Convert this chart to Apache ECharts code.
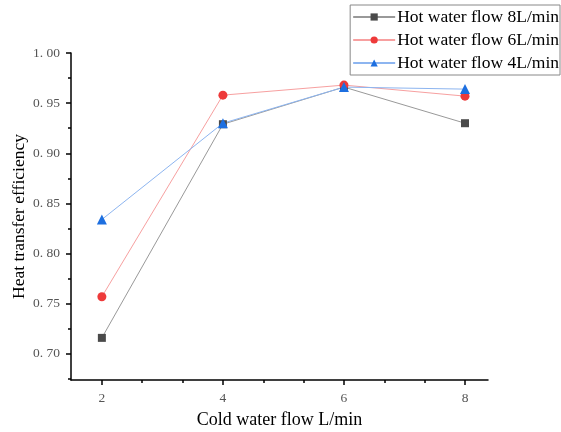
<!DOCTYPE html>
<html><head><meta charset="utf-8">
<script src="https://cdn.jsdelivr.net/npm/echarts@6/dist/echarts.min.js"></script>
<style>html,body{margin:0;padding:0;background:#fff}#c{width:561px;height:432px}</style>
</head><body><div id="c"></div>
<script>
const coldFlow = [2, 4, 6, 8];
const hot8 = [0.716, 0.929, 0.966, 0.930];
const hot6 = [0.757, 0.958, 0.968, 0.957];
const hot4 = [0.834, 0.930, 0.966, 0.964];
const seriesNames = ['Hot water flow 8L/min', 'Hot water flow 6L/min', 'Hot water flow 4L/min'];
const xTicks = [2, 4, 6, 8];
const xMinorTicks = [2.667, 3.333, 4.667, 5.333, 6.667, 7.333];
const yTicks = [0.70, 0.75, 0.80, 0.85, 0.90, 0.95, 1.00];
const yMinorTicks = [0.675, 0.725, 0.775, 0.825, 0.875, 0.925, 0.975];

const pair = arr => coldFlow.map((x, i) => [x, arr[i]]);
const serif = 'Liberation Serif';
const fmtY = v => v.toFixed(2).replace('.', '. ');
const X0 = 1.49, X1 = 8.38, Y0 = 0.674, Y1 = 1.0;

const chart = echarts.init(document.getElementById('c'));
chart.setOption({
  animation: false,
  backgroundColor: '#fff',
  grid: {left: 71, top: 53, right: 73, bottom: 52, containLabel: false, outerBoundsMode: 'none'},
  legend: {
    orient: 'vertical', right: 1, top: 5,
    borderColor: '#888', borderWidth: 1, padding: [3, 1, 3, 2],
    itemGap: 5, itemWidth: 42, itemHeight: 9,
    textStyle: {fontFamily: serif, fontSize: 17.5, color: '#000', padding: [0, 0, 0, -3]},
    data: seriesNames
  },
  xAxis: [{
    type: 'value', min: X0, max: X1,
    name: 'Cold water flow L/min', nameLocation: 'middle', nameGap: 31, nameMoveOverlap: false,
    nameTextStyle: {fontFamily: serif, fontSize: 18, color: '#000'},
    axisLine: {lineStyle: {color: '#000', width: 1.5}},
    axisTick: {show: true, customValues: xTicks, length: 5, lineStyle: {color: '#000', width: 1.5}},
    axisLabel: {customValues: xTicks, fontFamily: serif, fontSize: 13.5, color: '#555', margin: 11},
    splitLine: {show: false}
  }, {
    type: 'value', min: X0, max: X1, position: 'bottom',
    axisLine: {show: false},
    axisTick: {show: true, customValues: xMinorTicks, length: 3, lineStyle: {color: '#000', width: 1.5}},
    axisLabel: {show: false}, splitLine: {show: false}
  }],
  yAxis: [{
    type: 'value', min: Y0, max: Y1,
    name: 'Heat transfer efficiency', nameLocation: 'middle', nameGap: 43, nameMoveOverlap: false,
    nameTextStyle: {fontFamily: serif, fontSize: 17.5, color: '#000'},
    axisLine: {show: true, lineStyle: {color: '#000', width: 1.5}},
    axisTick: {show: true, customValues: yTicks, length: 5, lineStyle: {color: '#000', width: 1.5}},
    axisLabel: {customValues: yTicks, formatter: fmtY, fontFamily: serif, fontSize: 13.5, color: '#555', margin: 11},
    splitLine: {show: false}
  }, {
    type: 'value', min: Y0, max: Y1, position: 'left',
    axisLine: {show: false},
    axisTick: {show: true, customValues: yMinorTicks, length: 3, lineStyle: {color: '#000', width: 1.5}},
    axisLabel: {show: false}, splitLine: {show: false}
  }],
  series: [
    {name: seriesNames[0], type: 'line', data: pair(hot8), symbol: 'rect', symbolSize: 8,
     itemStyle: {color: '#4a4a4a'}, lineStyle: {color: '#999', width: 1}},
    {name: seriesNames[1], type: 'line', data: pair(hot6), symbol: 'circle', symbolSize: 9,
     itemStyle: {color: '#ee3a3a'}, lineStyle: {color: '#f7a0a0', width: 1}},
    {name: seriesNames[2], type: 'line', data: pair(hot4), symbol: 'triangle', symbolSize: 10,
     itemStyle: {color: '#1d6fe0'}, lineStyle: {color: '#8db5f0', width: 1}}
  ]
});
</script></body></html>
